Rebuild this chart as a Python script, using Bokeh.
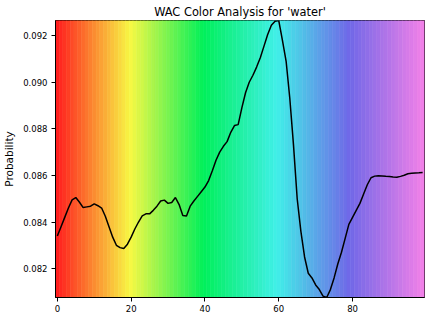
from bokeh.plotting import figure
from bokeh.models import Range1d, FixedTicker, ColumnDataSource, PrintfTickFormatter
from bokeh.embed import file_html
from bokeh.resources import INLINE

# ---- data ----
x_index = list(range(100))
probability = [
    0.08340, 0.08380, 0.08420, 0.08460, 0.08495, 0.08505, 0.08485, 0.08462, 0.08465, 0.08468,
    0.08478, 0.08470, 0.08460, 0.08425, 0.08380, 0.08335, 0.08300, 0.08290, 0.08286, 0.08305,
    0.08335, 0.08370, 0.08400, 0.08426, 0.08435, 0.08435, 0.08450, 0.08468, 0.08490, 0.08494,
    0.08480, 0.08484, 0.08505, 0.08475, 0.08428, 0.08426, 0.08468, 0.08490, 0.08510, 0.08530,
    0.08550, 0.08578, 0.08620, 0.08665, 0.08700, 0.08725, 0.08745, 0.08785, 0.08814, 0.08818,
    0.08890, 0.08955, 0.09000, 0.09030, 0.09065, 0.09105, 0.09155, 0.09205, 0.09245, 0.09262,
    0.09265, 0.09180, 0.09090, 0.08930, 0.08730, 0.08500, 0.08360, 0.08250, 0.08180, 0.08160,
    0.08130, 0.08110, 0.08082, 0.08076, 0.08110, 0.08160, 0.08220, 0.08270, 0.08330, 0.08390,
    0.08420, 0.08450, 0.08480, 0.08520, 0.08560, 0.08590, 0.08597, 0.08599, 0.08598, 0.08596,
    0.08595, 0.08593, 0.08592, 0.08596, 0.08601, 0.08607, 0.08609, 0.08610, 0.08611, 0.08613,
]
x_ticks = [0, 20, 40, 60, 80]
y_ticks = [0.082, 0.084, 0.086, 0.088, 0.090, 0.092]
# colour anchors of the background spectrum (red, yellow, green, cyan, blue-violet, pink)
anchor_colors = [(255, 30, 30), (248, 248, 68), (0, 240, 90), (64, 240, 232), (112, 104, 232), (240, 128, 232)]

# ---- background colour per column (linear blend between anchors) ----
n = len(x_index)
segs = len(anchor_colors) - 1
bg_colors = []
for i in x_index:
    t = i / (n - 1) * segs
    k = min(int(t), segs - 1)
    f = t - k
    c0, c1 = anchor_colors[k], anchor_colors[k + 1]
    r, g, b = (round(c0[j] + (c1[j] - c0[j]) * f) for j in range(3))
    bg_colors.append("#%02x%02x%02x" % (r, g, b))

ymin, ymax = min(probability), max(probability)

p = figure(width=442, height=319, output_backend="svg", toolbar_location=None,
           x_range=Range1d(x_index[0] - 0.5, x_index[-1] + 0.5),
           y_range=Range1d(ymin, ymax),
           title="WAC Color Analysis for 'water'",
           min_border_left=55, min_border_right=18, min_border_top=19, min_border_bottom=22)

bg = ColumnDataSource(dict(left=[i - 0.5 for i in x_index], right=[i + 0.5 for i in x_index],
                           color=bg_colors))
p.quad(left="left", right="right", bottom=ymin, top=ymax, fill_color="color",
       line_color="color", line_width=0.6, source=bg)

p.line(x_index, probability, line_color="black", line_width=1.5)

p.title.align = "center"
p.title.text_font = "DejaVu Sans"
p.title.text_font_size = "11.4px"
p.title.text_font_style = "normal"
p.title.text_color = "black"
p.title.standoff = 4
p.title.offset = 0

p.xgrid.visible = False
p.ygrid.visible = False
p.outline_line_color = "black"
p.outline_line_width = 1

for ax in (p.xaxis[0], p.yaxis[0]):
    ax.major_label_text_font = "DejaVu Sans"
    ax.major_label_text_font_size = "8.5px"
    ax.major_label_text_color = "black"
    ax.axis_label_text_font = "DejaVu Sans"
    ax.axis_label_text_font_size = "10.5px"
    ax.axis_label_text_font_style = "normal"
    ax.axis_label_text_color = "black"
    ax.minor_tick_line_color = None
    ax.major_tick_in = 0
    ax.major_tick_out = 4
    ax.major_tick_line_color = "black"
    ax.axis_line_color = "black"

p.xaxis.ticker = FixedTicker(ticks=x_ticks)
p.yaxis.ticker = FixedTicker(ticks=y_ticks)
p.yaxis.formatter = PrintfTickFormatter(format="%.3f")
p.xaxis.major_label_standoff = 3
p.yaxis.major_label_standoff = 4
p.yaxis.axis_label = "Probability"
p.yaxis.axis_label_standoff = 5

open("out.html", "w").write(file_html(p, INLINE))
